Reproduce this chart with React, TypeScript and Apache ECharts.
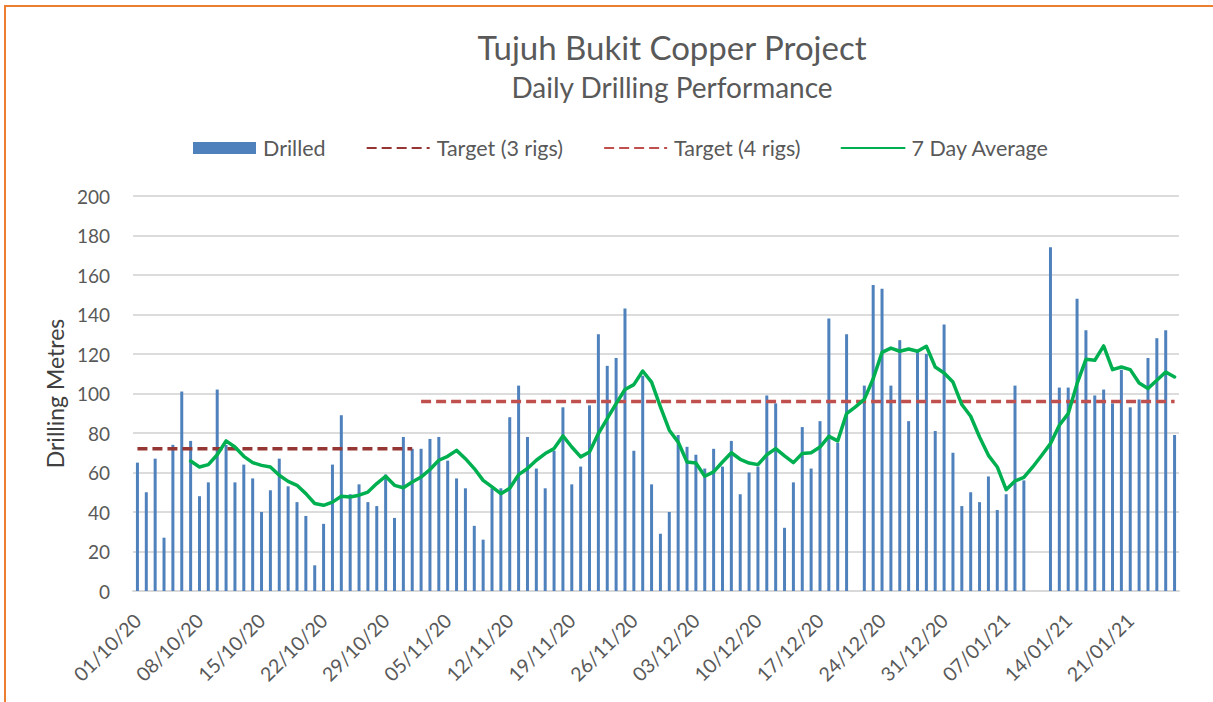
import React, { useEffect, useRef } from "react";
import * as echarts from "echarts";

// ---- Data ----
const START_DATE = "2020-10-01";
const DAY_COUNT = 118;

function buildDates(start: string, n: number): string[] {
  const out: string[] = [];
  const d0 = new Date(start + "T00:00:00Z");
  for (let i = 0; i < n; i++) {
    const d = new Date(d0.getTime() + i * 86400000);
    const dd = String(d.getUTCDate()).padStart(2, "0");
    const mm = String(d.getUTCMonth() + 1).padStart(2, "0");
    const yy = String(d.getUTCFullYear() % 100).padStart(2, "0");
    out.push(`${dd}/${mm}/${yy}`);
  }
  return out;
}
const categories = buildDates(START_DATE, DAY_COUNT);

const drilled: (number | null)[] = [
  65, 50, 67, 27, 74, 101, 76, 48, 55, 102,
  74, 55, 64, 57, 40, 51, 67, 53, 45, 38,
  13, 34, 64, 89, 49, 54, 45, 43, 59, 37,
  78, 72, 72, 77, 78, 66, 57, 52, 33, 26,
  52, 52, 88, 104, 78, 62, 52, 71, 93, 54,
  63, 94, 130, 114, 118, 143, 71, 109, 54, 29,
  40, 79, 73, 69, 62, 72, 63, 76, 49, 60,
  63, 99, 95, 32, 55, 83, 62, 86, 138, 75,
  130, null, 104, 155, 153, 104, 127, 86, 121, 120,
  81, 135, 70, 43, 50, 45, 58, 41, 49, 104,
  56, null, null, 174, 103, 103, 148, 132, 99, 102,
  95, 112, 93, 97, 118, 128, 132, 79,
];

const sevenDayAverage: (number | null)[] = [
  null, null, null, null, null, null, 65.8, 62.8, 64, 69,
  76, 72.9, 68.2, 65, 63.6, 62.8, 58.6, 55.5, 53.5, 49.3,
  44.3, 43.4, 45, 48, 47.6, 48.5, 50.1, 54.4, 58.1, 53.5,
  52.3, 55.2, 57.7, 61.5, 66.2, 68.2, 71.2, 67, 62, 56,
  52.7, 49.3, 52, 58.9, 62, 66.2, 69.6, 72.1, 78.5, 72.9,
  67.9, 70.4, 79.7, 87.3, 94.9, 102, 104.5, 111.4, 105.8, 93.2,
  81.4, 75.4, 65.3, 64.8, 58.1, 60.3, 65.3, 70, 66.7, 64.8,
  64, 69, 72.1, 68.4, 65, 69.6, 70, 72.9, 78.3, 76,
  89.8, 93.2, 97, 107.5, 120.8, 123, 121.4, 122.5, 121.4, 123.9,
  113.4, 110.4, 105.8, 94.4, 88.5, 78, 68.7, 62.8, 51.3, 55.7,
  57.5, 62.8, 68.6, 74.6, 83.9, 89.8, 105, 117.3, 116.8, 124.1,
  112.1, 113.4, 112.1, 105.3, 102.5, 106.7, 110.9, 108.4,
];

// Targets: 3 rigs until 01/11/20, 4 rigs from 02/11/20
const TARGET_3_RIGS = 72;
const TARGET_4_RIGS = 96;
const TARGET_4_START_INDEX = 32;

const target3 = categories.map((_, i) => (i < TARGET_4_START_INDEX ? TARGET_3_RIGS : null));
const target4 = categories.map((_, i) => (i >= TARGET_4_START_INDEX ? TARGET_4_RIGS : null));

const yTicks = { min: 0, max: 200, interval: 20 };

const FONT = "Lato, 'Noto Sans', sans-serif";
const TEXT = "#595959";

export default function App() {
  const ref = useRef<HTMLDivElement>(null);
  useEffect(() => {
    if (!ref.current) return;
    const chart = echarts.init(ref.current, undefined, { renderer: "svg" });
    chart.setOption({
      animation: false,
      backgroundColor: "#ffffff",
      textStyle: { fontFamily: FONT },
      title: [
        {
          text: "Tujuh Bukit Copper Project",
          left: 667,
          top: 25,
          textAlign: "center",
          textStyle: { fontFamily: FONT, fontSize: 33, fontWeight: "normal", color: TEXT },
        },
        {
          text: "Daily Drilling Performance",
          left: 667,
          top: 68,
          textAlign: "center",
          textStyle: { fontFamily: FONT, fontSize: 28, fontWeight: "normal", color: TEXT },
        },
      ],
      legend: {
        left: 188,
        top: 132,
        itemWidth: 63,
        itemHeight: 12,
        itemGap: 40,
        textStyle: { fontFamily: FONT, fontSize: 21.5, color: TEXT, padding: [0, 0, 0, 2] },
        data: [
          { name: "Drilled", icon: "rect" },
          { name: "Target (3 rigs)", itemStyle: { opacity: 0 } },
          { name: "Target (4 rigs)", itemStyle: { opacity: 0 } },
          { name: "7 Day Average", itemStyle: { opacity: 0 } },
        ],
      },
      graphic: [
        {
          type: "rect",
          shape: { x: 5, y: 6, width: 1400, height: 900 },
          style: { fill: "none", stroke: "#ED7D31", lineWidth: 2 },
          silent: true,
          z: 100,
        },
      ],
      grid: { left: 133, right: 34, top: 196, bottom: 111, containLabel: false },
      xAxis: {
        type: "category",
        data: categories,
        boundaryGap: true,
        axisLine: { lineStyle: { color: "#D9D9D9", width: 2 } },
        axisTick: { interval: 6, length: 6, lineStyle: { color: "#D9D9D9", width: 2 } },
        axisLabel: {
          interval: 6,
          rotate: 45,
          margin: 26,
          fontFamily: FONT,
          fontSize: 19.5,
          color: TEXT,
        },
        splitLine: { show: false },
      },
      yAxis: {
        type: "value",
        min: yTicks.min,
        max: yTicks.max,
        interval: yTicks.interval,
        name: "Drilling Metres",
        nameLocation: "middle",
        nameRotate: 90,
        nameGap: 65,
        nameTextStyle: { fontFamily: FONT, fontSize: 23, color: "#404040" },
        axisLine: { show: false },
        axisTick: { show: false },
        axisLabel: { margin: 23, fontFamily: FONT, fontSize: 19, color: TEXT },
        splitLine: { lineStyle: { color: "#DCDCDC", width: 2 } },
      },
      series: [
        {
          name: "Drilled",
          type: "bar",
          data: drilled,
          barWidth: 3,
          itemStyle: { color: "#4F81BD" },
        },
        {
          name: "Target (3 rigs)",
          type: "line",
          data: target3,
          symbol: "none",
          lineStyle: { color: "#963634", width: 3.5, type: [10, 5] },
          itemStyle: { color: "#963634" },
        },
        {
          name: "Target (4 rigs)",
          type: "line",
          data: target4,
          symbol: "none",
          lineStyle: { color: "#C0504D", width: 3.5, type: [10, 5] },
          itemStyle: { color: "#C0504D" },
        },
        {
          name: "7 Day Average",
          type: "line",
          data: sevenDayAverage,
          symbol: "none",
          lineStyle: { color: "#00B050", width: 3.5, join: "round", cap: "round" },
          itemStyle: { color: "#00B050" },
        },
      ],
    });
    return () => chart.dispose();
  }, []);
  return (
    <div
      ref={ref}
      style={{ position: "fixed", left: 0, top: 0, width: 1213, height: 702, background: "#fff" }}
    />
  );
}
